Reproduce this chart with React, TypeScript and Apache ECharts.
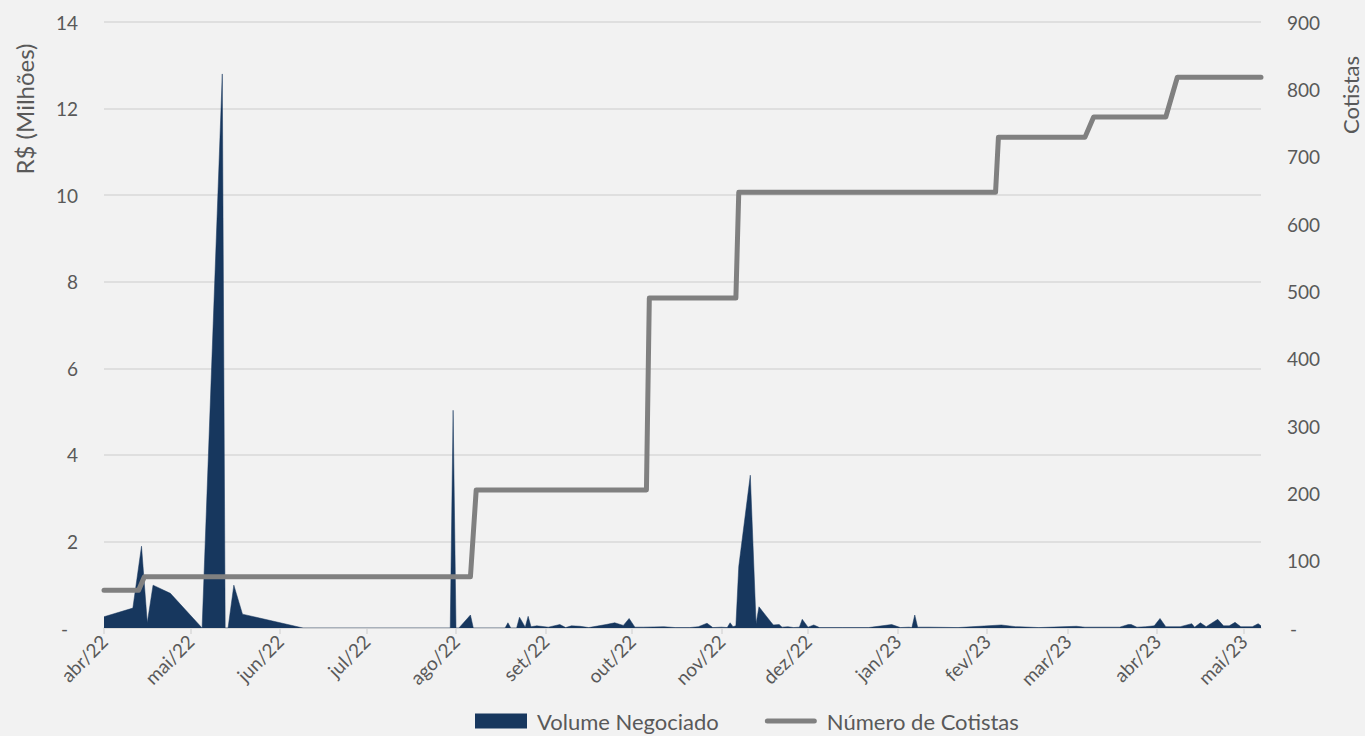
import React, { useEffect, useRef } from "react";
import * as echarts from "echarts";

const volumeDates = [
  "2022-04-01", "2022-04-11", "2022-04-14", "2022-04-16", "2022-04-18", "2022-04-24",
  "2022-05-05", "2022-05-12", "2022-05-13", "2022-05-14", "2022-05-16", "2022-05-19",
  "2022-06-09", "2022-07-30", "2022-07-31", "2022-08-01", "2022-08-02", "2022-08-06",
  "2022-08-07", "2022-08-18", "2022-08-19", "2022-08-20", "2022-08-22", "2022-08-23",
  "2022-08-25", "2022-08-26", "2022-08-27", "2022-08-29", "2022-09-02", "2022-09-06",
  "2022-09-08", "2022-09-10", "2022-09-13", "2022-09-16", "2022-09-22", "2022-09-25",
  "2022-09-28", "2022-09-30", "2022-10-02", "2022-10-05", "2022-10-12", "2022-10-16",
  "2022-10-21", "2022-10-24", "2022-10-27", "2022-10-29", "2022-11-01", "2022-11-03",
  "2022-11-04", "2022-11-05", "2022-11-06", "2022-11-07", "2022-11-11", "2022-11-13",
  "2022-11-14", "2022-11-18", "2022-11-19", "2022-11-21", "2022-11-22", "2022-11-24",
  "2022-11-26", "2022-11-28", "2022-11-29", "2022-12-01", "2022-12-03", "2022-12-05",
  "2022-12-13", "2022-12-22", "2022-12-30", "2023-01-02", "2023-01-05", "2023-01-06",
  "2023-01-07", "2023-01-08", "2023-01-12", "2023-01-22", "2023-02-06", "2023-02-11",
  "2023-02-12", "2023-02-19", "2023-03-04", "2023-03-07", "2023-03-19", "2023-03-22",
  "2023-03-23", "2023-03-25", "2023-03-28", "2023-03-31", "2023-04-02", "2023-04-04",
  "2023-04-09", "2023-04-13", "2023-04-14", "2023-04-16", "2023-04-18", "2023-04-22",
  "2023-04-24", "2023-04-26", "2023-04-28", "2023-04-30", "2023-05-04", "2023-05-06",
  "2023-05-07",
];
const volumeValues = [
  0.26, 0.46, 1.89, 0.12, 0.99, 0.8,
  0, 12.8, 0, 0, 0.99, 0.32,
  0, 0, 5.03, 0, 0, 0.3,
  0, 0, 0.12, 0, 0, 0.25,
  0.02, 0.27, 0.03, 0.05, 0.02, 0.08,
  0.01, 0.05, 0.04, 0.01, 0.08, 0.12,
  0.06, 0.22, 0.02, 0.02, 0.03, 0.01,
  0.01, 0.03, 0.11, 0.01, 0.02, 0.01,
  0.12, 0.03, 0.05, 1.42, 3.53, 0.1,
  0.49, 0.15, 0.07, 0.08, 0.02, 0.03,
  0.01, 0.02, 0.2, 0.02, 0.07, 0.01,
  0.01, 0.01, 0.08, 0.01, 0.02, 0.01,
  0.3, 0.02, 0.02, 0.01, 0.07, 0.03,
  0.03, 0.01, 0.04, 0.02, 0.02, 0.08,
  0.08, 0.02, 0.03, 0.05, 0.22, 0.03,
  0.03, 0.1, 0.02, 0.12, 0.03, 0.2,
  0.05, 0.05, 0.13, 0.03, 0.03, 0.1,
  0.05,
];

const cotistasDates = [
  "2022-04-01", "2022-04-13", "2022-04-15", "2022-08-06", "2022-08-08",
  "2022-10-06", "2022-10-07", "2022-11-06", "2022-11-07", "2023-02-04",
  "2023-02-05", "2023-03-07", "2023-03-10", "2023-04-04", "2023-04-08",
  "2023-05-07",
];
const cotistasValues = [
  56, 56, 76, 76, 205,
  205, 490, 490, 647, 647,
  729, 729, 759, 759, 818,
  818,
];

const monthLabels = ["jan", "fev", "mar", "abr", "mai", "jun", "jul", "ago", "set", "out", "nov", "dez"];
const leftTicks = { min: 0, max: 14, interval: 2 };
const rightTicks = { min: 0, max: 900, interval: 100 };

const FONT = "Lato, 'Open Sans', sans-serif";
const TEXT = "#595959";
const GRID = "#d9d9d9";

export default function App() {
  const ref = useRef<HTMLDivElement>(null);
  useEffect(() => {
    document.body.style.margin = "0";
    document.body.style.background = "#f2f2f2";
    const chart = echarts.init(ref.current!, undefined, { renderer: "svg" });
    const day = 86400000;
    const yLabel = (v: number) => (v === 0 ? "{d|-}" : String(v));
    chart.setOption({
      animation: false,
      backgroundColor: "#f2f2f2",
      textStyle: { fontFamily: FONT },
      grid: { left: 104, right: 104, top: 22, bottom: 108, containLabel: false },
      legend: {
        left: 470,
        top: 704,
        padding: 5,
        itemWidth: 52,
        itemHeight: 15,
        itemGap: 46,
        textStyle: { fontSize: 22, lineHeight: 24, color: TEXT, fontFamily: FONT, padding: [0, 0, 0, 5] },
        data: [
          { name: "Volume Negociado", icon: "rect" },
          {
            name: "Número de Cotistas",
            icon: "path://M2.5,0 L49.5,0 A2.5,2.5 0 0 1 49.5,5 L2.5,5 A2.5,2.5 0 0 1 2.5,0 Z",
            itemStyle: { color: "#808080" },
          },
        ],
      },
      xAxis: {
        type: "time",
        min: "2022-04-01",
        max: "2023-05-07",
        splitNumber: 13,
        minInterval: 28 * day,
        maxInterval: 31 * day,
        axisLine: { show: true, lineStyle: { color: GRID, width: 1.5 } },
        axisTick: { show: true, length: 6, lineStyle: { color: GRID, width: 1.5 } },
        splitLine: { show: false },
        axisLabel: {
          rotate: 45,
          margin: 10,
          fontSize: 19,
          color: TEXT,
          fontFamily: FONT,
          hideOverlap: false,
          formatter: (value: number) => {
            const d = new Date(value);
            return monthLabels[d.getMonth()] + "/" + String(d.getFullYear()).slice(2);
          },
        },
      },
      yAxis: [
        {
          type: "value",
          ...leftTicks,
          axisLine: { show: false },
          axisTick: { show: false },
          splitLine: { show: true, lineStyle: { color: GRID, width: 1.5 } },
          axisLabel: {
            margin: 26,
            fontSize: 19,
            color: TEXT,
            fontFamily: FONT,
            formatter: yLabel,
            rich: { d: { fontSize: 19, color: TEXT, fontFamily: FONT, padding: [0, 10, 0, 0] } },
          },
        },
        {
          type: "value",
          ...rightTicks,
          position: "right",
          axisLine: { show: false },
          axisTick: { show: false },
          splitLine: { show: false },
          axisLabel: {
            margin: 26,
            fontSize: 19,
            color: TEXT,
            fontFamily: FONT,
            formatter: yLabel,
            rich: { d: { fontSize: 19, color: TEXT, fontFamily: FONT, padding: [0, 0, 0, 3] } },
          },
        },
      ],
      graphic: [
        {
          type: "text",
          x: 24,
          y: 109,
          rotation: Math.PI / 2,
          style: {
            text: "R$ (Milhões)",
            fontSize: 24,
            fontFamily: FONT,
            fill: TEXT,
            align: "center",
            verticalAlign: "middle",
          },
        },
        {
          type: "text",
          x: 1350,
          y: 95,
          rotation: Math.PI / 2,
          style: {
            text: "Cotistas",
            fontSize: 22,
            fontFamily: FONT,
            fill: TEXT,
            align: "center",
            verticalAlign: "middle",
          },
        },
      ],
      series: [
        {
          name: "Volume Negociado",
          type: "line",
          yAxisIndex: 0,
          symbol: "none",
          showSymbol: false,
          itemStyle: { color: "#17375e" },
          lineStyle: { color: "#17375e", width: 0.5 },
          areaStyle: { color: "#17375e", opacity: 1 },
          data: volumeDates.map((d, i) => [d, volumeValues[i]]),
          z: 2,
        },
        {
          name: "Número de Cotistas",
          type: "line",
          yAxisIndex: 1,
          symbol: "none",
          showSymbol: false,
          itemStyle: { color: "#808080" },
          lineStyle: { color: "#808080", width: 5, cap: "round", join: "round" },
          data: cotistasDates.map((d, i) => [d, cotistasValues[i]]),
          z: 3,
        },
      ],
    });
    return () => chart.dispose();
  }, []);
  return <div ref={ref} style={{ width: 1365, height: 736 }} />;
}
